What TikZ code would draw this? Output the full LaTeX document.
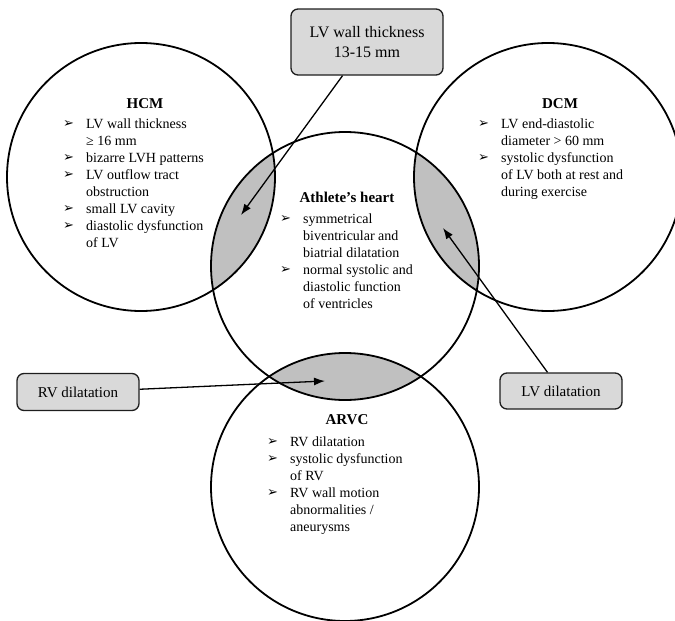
\documentclass[tikz,border=0pt]{standalone}
\usepackage{fontspec}
\setmainfont{Liberation Serif}
\newfontfamily\symfont{DejaVu Sans}
\usetikzlibrary{arrows.meta}
\definecolor{lensgray}{RGB}{192, 192, 192}
\definecolor{boxgray}{RGB}{217, 217, 217}
\definecolor{inkgray}{RGB}{30, 30, 30}
\newcommand{\bul}{\makebox[23pt][l]{\raisebox{0.5pt}{\symfont\fontsize{13}{13}\selectfont ➢}}}

\begin{document}
\begin{tikzpicture}[x=1pt, y=-1pt,
    ring/.style={draw=black, line width=1.8pt},
    tag/.style={draw=inkgray, line width=1.3pt, fill=boxgray, rounded corners=7pt, inner sep=0pt, font=\fontsize{15}{20}\selectfont},
    head/.style={anchor=base, inner sep=0pt, font=\fontsize{15}{17}\selectfont\bfseries},
    list/.style={anchor=base west, inner sep=0pt, font=\fontsize{14}{17}\selectfont},
    arr/.style={-{Latex[length=11pt, width=8pt]}, line width=1.3pt}]
    \useasboundingbox (0,0) rectangle (675,621);

    \coordinate (hcmc) at (141,177);
    \coordinate (dcmc) at (548,177);
    \coordinate (athc) at (345,266);
    \coordinate (arvcc) at (345,487);

    % shaded overlaps
    \begin{scope}
        \clip (athc) circle (134);
        \fill[lensgray] (hcmc) circle (134);
        \fill[lensgray] (dcmc) circle (134);
        \fill[lensgray] (arvcc) circle (134);
    \end{scope}
    \draw[ring] (hcmc) circle (134);
    \draw[ring] (dcmc) circle (134);
    \draw[ring] (athc) circle (134);
    \draw[ring] (arvcc) circle (134);

    \node[head] (hcmhead) at (145,108) {HCM};
    \node[list] (hcmlist) at (63,128) {\begin{tabular}[t]{@{}l@{}l@{}}
        \bul & LV wall thickness\\
             & ≥ 16 mm\\
        \bul & bizarre LVH patterns\\
        \bul & LV outflow tract\\
             & obstruction\\
        \bul & small LV cavity\\
        \bul & diastolic dysfunction\\
             & of LV
    \end{tabular}};

    \node[head] (dcmhead) at (560,108) {DCM};
    \node[list] (dcmlist) at (478,128) {\begin{tabular}[t]{@{}l@{}l@{}}
        \bul & LV end-diastolic\\
             & diameter > 60 mm\\
        \bul & systolic dysfunction\\
             & of LV both at rest and\\
             & during exercise
    \end{tabular}};

    \node[head] (athhead) at (347,202) {Athlete’s heart};
    \node[list] (athlist) at (280,223) {\begin{tabular}[t]{@{}l@{}l@{}}
        \bul & symmetrical\\
             & biventricular and\\
             & biatrial dilatation\\
        \bul & normal systolic and\\
             & diastolic function\\
             & of ventricles
    \end{tabular}};

    \node[head] (arvchead) at (347,424) {ARVC};
    \node[list] (arvclist) at (267,446) {\begin{tabular}[t]{@{}l@{}l@{}}
        \bul & RV dilatation\\
        \bul & systolic dysfunction\\
             & of RV\\
        \bul & RV wall motion\\
             & abnormalities /\\
             & aneurysms
    \end{tabular}};

    \node[tag, minimum width=152, minimum height=66, align=center, font=\fontsize{16}{20}\selectfont] (thickbox) at (367,42) {LV wall thickness\\13-15 mm};
    \node[tag, minimum width=122, minimum height=37] (rvbox) at (78,392) {RV dilatation};
    \node[tag, minimum width=122, minimum height=36] (lvbox) at (561,391) {LV dilatation};

    \coordinate (hcmtip) at (241,215);
    \coordinate (dcmtip) at (443,228);
    \coordinate (arvctip) at (325,381);
    \draw[arr] (thickbox) -- (hcmtip);
    \draw[arr] (lvbox) -- (dcmtip);
    \draw[arr] (rvbox) -- (arvctip);
\end{tikzpicture}
\end{document}
